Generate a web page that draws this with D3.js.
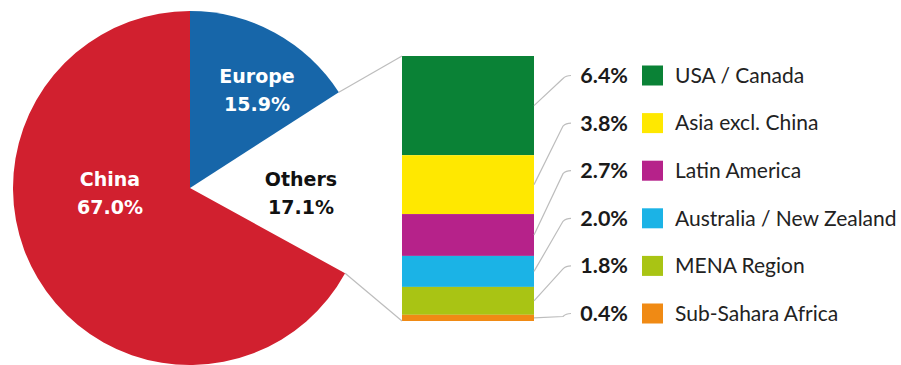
<!DOCTYPE html>
<html>
<head>
<meta charset="utf-8">
<script src="https://cdn.jsdelivr.net/npm/d3@7"></script>
<style>
  body { margin: 0; background: #fff; }
  text { font-family: "DejaVu Sans", Verdana, sans-serif; }
  .legend-text { font-family: Lato, "Open Sans", sans-serif; }
</style>
</head>
<body>
<div id="chart"></div>
<script>
// pie data (clockwise from 12 o'clock)
const pieNames = ["Europe", "Others", "China"];
const pieValues = [15.9, 17.1, 67.0];
const pieColors = ["#1766a9", "none", "#d1202f"];
const pieTextColors = ["#fff", "#111", "#fff"];

// breakdown of "Others"
const otherNames = ["USA / Canada", "Asia excl. China", "Latin America",
  "Australia / New Zealand", "MENA Region", "Sub-Sahara Africa"];
const otherValues = [6.4, 3.8, 2.7, 2.0, 1.8, 0.4];
const otherColors = ["#0a8236", "#ffe800", "#b6228a", "#1bb3e6", "#a9c414", "#f08a14"];

const width = 901;
const height = 365;

const svg = d3.select("#chart")
  .append("svg")
  .attr("width", width)
  .attr("height", height);

// ---- pie
const cx = 190, cy = 188, radius = 177;

const pieGen = d3.pie().sort(null).value(d => d)(pieValues);
const arcGen = d3.arc().innerRadius(0).outerRadius(radius);

const pieG = svg.append("g")
  .attr("transform", `translate(${cx}, ${cy})`);

pieG.selectAll("path")
  .data(pieGen)
  .join("path")
  .attr("d", arcGen)
  .attr("fill", (d, i) => pieColors[i]);

// label positions: x centre and first baseline, relative to pie centre
const labelPos = [[67, -105], [111, -2], [-80, -2]];
pieGen.forEach((d, i) => {
  const t = pieG.append("text")
    .attr("x", labelPos[i][0])
    .attr("y", labelPos[i][1])
    .attr("text-anchor", "middle")
    .attr("font-size", "19px")
    .attr("font-weight", "bold")
    .attr("fill", pieTextColors[i]);
  t.append("tspan").attr("x", labelPos[i][0]).text(pieNames[i]);
  t.append("tspan").attr("x", labelPos[i][0]).attr("dy", 28).text(pieValues[i].toFixed(1) + "%");
});

// ---- stacked bar for Others
const barX = 402, barW = 132;
const othersTotal = d3.sum(otherValues);
const yBar = d3.scaleLinear().domain([0, othersTotal]).range([56, 321]);

const stacked = [];
let acc = 0;
otherValues.forEach((v, i) => {
  stacked.push({ name: otherNames[i], value: v, y0: acc, y1: acc + v, color: otherColors[i] });
  acc += v;
});

svg.selectAll("rect.seg")
  .data(stacked)
  .join("rect")
  .attr("class", "seg")
  .attr("x", barX)
  .attr("y", d => yBar(d.y0))
  .attr("width", barW)
  .attr("height", d => yBar(d.y1) - yBar(d.y0))
  .attr("fill", d => d.color);

// leader lines from pie to bar
const othersSlice = pieGen[1];
const edgePt = a => [cx + radius * Math.sin(a), cy - radius * Math.cos(a)];
const p1 = edgePt(othersSlice.startAngle);
const p2 = edgePt(othersSlice.endAngle);
svg.append("line")
  .attr("x1", p1[0]).attr("y1", p1[1])
  .attr("x2", barX).attr("y2", yBar(0))
  .attr("stroke", "#bdbdbd").attr("stroke-width", 1.2);
svg.append("line")
  .attr("x1", p2[0]).attr("y1", p2[1])
  .attr("x2", barX).attr("y2", yBar(othersTotal))
  .attr("stroke", "#bdbdbd").attr("stroke-width", 1.2);

// ---- legend rows
const yRow = d3.scalePoint().domain(otherNames).range([75.5, 313.5]);

svg.selectAll("path.conn")
  .data(stacked)
  .join("path")
  .attr("class", "conn")
  .attr("d", d => {
    const ym = yBar((d.y0 + d.y1) / 2);
    const yr = yRow(d.name);
    return `M${barX + barW},${ym} L563,${yr + 3} Q566,${yr} 571,${yr}`;
  })
  .attr("fill", "none")
  .attr("stroke", "#bdbdbd")
  .attr("stroke-width", 1.2);

svg.selectAll("text.pct")
  .data(stacked)
  .join("text")
  .attr("class", "pct legend-text")
  .attr("x", 628)
  .attr("y", d => yRow(d.name))
  .attr("dy", "0.35em")
  .attr("text-anchor", "end")
  .attr("font-size", "21.5px")
  .attr("font-weight", "bold")
  .attr("fill", "#1a1a1a")
  .text(d => d.value.toFixed(1) + "%");

svg.selectAll("rect.swatch")
  .data(stacked)
  .join("rect")
  .attr("class", "swatch")
  .attr("x", 642)
  .attr("y", d => yRow(d.name) - 10)
  .attr("width", 21)
  .attr("height", 20)
  .attr("fill", d => d.color);

svg.selectAll("text.name")
  .data(stacked)
  .join("text")
  .attr("class", "name legend-text")
  .attr("x", 675)
  .attr("y", d => yRow(d.name))
  .attr("dy", "0.35em")
  .attr("font-size", "21px")
  .attr("fill", "#222")
  .text(d => d.name);
</script>
</body>
</html>
